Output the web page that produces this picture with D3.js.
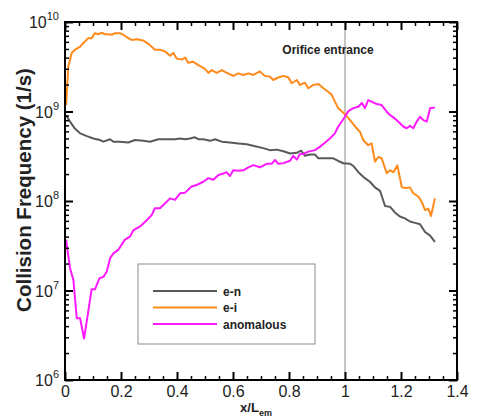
<!DOCTYPE html>
<html>
<head>
<meta charset="utf-8">
<script src="https://cdn.jsdelivr.net/npm/d3@7"></script>
<style>
  body { margin: 0; background: #fff; }
  svg { font-family: "Liberation Sans", Arial, sans-serif; }
  .tick text { fill: #222; }
</style>
</head>
<body>
<script>

var w = 477,
    h = 417;

// x / L_em, collision frequency (1/s)
var eN = [
  [0.004, 9.1e8], [0.018, 7.7e8], [0.036, 6.4e8], [0.054, 5.7e8], [0.078, 5.3e8],
  [0.101, 5.0e8], [0.125, 4.8e8], [0.137, 4.6e8], [0.161, 4.9e8], [0.173, 4.6e8],
  [0.196, 4.6e8], [0.226, 4.5e8], [0.250, 4.8e8], [0.280, 4.7e8], [0.304, 4.6e8],
  [0.333, 4.9e8], [0.363, 4.9e8], [0.393, 4.9e8], [0.411, 5.0e8], [0.429, 4.9e8],
  [0.446, 5.0e8], [0.464, 5.15e8], [0.476, 4.9e8], [0.494, 4.9e8], [0.518, 4.7e8],
  [0.536, 4.9e8], [0.560, 4.6e8], [0.589, 4.5e8], [0.619, 4.4e8], [0.649, 4.3e8],
  [0.679, 4.1e8], [0.708, 3.9e8], [0.732, 3.7e8], [0.756, 3.75e8], [0.780, 3.6e8],
  [0.804, 3.4e8], [0.828, 3.45e8], [0.843, 3.65e8], [0.857, 3.2e8], [0.875, 3.3e8],
  [0.893, 3.3e8], [0.905, 3.0e8], [0.935, 3.0e8], [0.958, 3.0e8], [0.976, 2.8e8],
  [0.994, 2.64e8], [1.018, 2.6e8], [1.030, 2.46e8], [1.048, 2.1e8], [1.071, 1.8e8],
  [1.089, 1.64e8], [1.107, 1.42e8], [1.125, 1.3e8], [1.143, 8.8e7], [1.161, 8.6e7],
  [1.179, 7.4e7], [1.196, 6.7e7], [1.214, 6.4e7], [1.232, 5.9e7], [1.250, 5.7e7],
  [1.268, 5.5e7], [1.286, 4.5e7], [1.304, 4.1e7], [1.321, 3.5e7]
];

var eI = [
  [0.004, 1.18e9], [0.012, 3.2e9], [0.024, 4.5e9], [0.036, 4.9e9], [0.054, 5.3e9],
  [0.065, 5.8e9], [0.083, 6.6e9], [0.095, 6.6e9], [0.107, 7.5e9], [0.119, 7.3e9],
  [0.131, 7.6e9], [0.143, 7.3e9], [0.155, 7.3e9], [0.167, 7.2e9], [0.179, 7.5e9],
  [0.196, 7.5e9], [0.208, 7.2e9], [0.226, 6.6e9], [0.238, 6.3e9], [0.256, 6.4e9],
  [0.280, 6.2e9], [0.298, 5.7e9], [0.321, 4.9e9], [0.339, 4.9e9], [0.357, 4.7e9],
  [0.375, 4.2e9], [0.387, 4.5e9], [0.399, 3.9e9], [0.417, 3.8e9], [0.429, 4.0e9],
  [0.440, 3.5e9], [0.458, 3.6e9], [0.476, 3.3e9], [0.500, 3.0e9], [0.512, 2.7e9],
  [0.524, 2.9e9], [0.542, 2.7e9], [0.560, 2.9e9], [0.578, 2.7e9], [0.601, 2.5e9],
  [0.619, 2.67e9], [0.637, 2.56e9], [0.655, 2.67e9], [0.673, 2.56e9], [0.696, 2.8e9],
  [0.714, 2.5e9], [0.732, 2.45e9], [0.744, 2.25e9], [0.762, 2.4e9], [0.780, 2.5e9],
  [0.798, 2.4e9], [0.810, 2.07e9], [0.828, 2.25e9], [0.839, 1.98e9], [0.857, 2.1e9],
  [0.869, 1.82e9], [0.887, 1.98e9], [0.905, 2.03e9], [0.923, 1.82e9], [0.940, 1.66e9],
  [0.953, 1.53e9], [0.964, 1.29e9], [0.976, 1.09e9], [1.000, 9.3e8], [1.018, 8.0e8],
  [1.036, 6.8e8], [1.054, 5.9e8], [1.065, 4.8e8], [1.083, 4.2e8], [1.095, 4.4e8],
  [1.107, 2.75e8], [1.119, 3.1e8], [1.131, 3.0e8], [1.149, 2.04e8], [1.161, 2.2e8],
  [1.173, 2.1e8], [1.187, 2.5e8], [1.203, 1.42e8], [1.220, 1.4e8], [1.232, 1.42e8],
  [1.244, 1.22e8], [1.262, 1.12e8], [1.274, 9.8e7], [1.286, 7.9e7], [1.298, 8.2e7],
  [1.307, 6.8e7], [1.321, 1.07e8]
];

var anomalous = [
  [0.004, 3.7e7], [0.012, 2.4e7], [0.018, 1.77e7], [0.030, 1.31e7], [0.042, 4.9e6],
  [0.054, 4.9e6], [0.068, 2.9e6], [0.083, 5.8e6], [0.095, 1.03e7], [0.107, 1.03e7],
  [0.123, 1.37e7], [0.137, 1.42e7], [0.149, 1.62e7], [0.161, 2.3e7], [0.173, 2.6e7],
  [0.190, 2.84e7], [0.214, 3.7e7], [0.232, 4.0e7], [0.244, 4.7e7], [0.268, 5.2e7],
  [0.292, 6.1e7], [0.310, 7.0e7], [0.321, 8.3e7], [0.339, 8.3e7], [0.357, 9.4e7],
  [0.375, 1.07e8], [0.393, 1.03e8], [0.411, 1.22e8], [0.429, 1.24e8], [0.452, 1.45e8],
  [0.470, 1.51e8], [0.494, 1.64e8], [0.512, 1.8e8], [0.530, 1.73e8], [0.548, 1.95e8],
  [0.565, 2.03e8], [0.577, 2.1e8], [0.589, 1.9e8], [0.601, 2.2e8], [0.619, 2.18e8],
  [0.637, 2.2e8], [0.655, 2.38e8], [0.673, 2.52e8], [0.696, 2.38e8], [0.720, 2.6e8],
  [0.738, 2.6e8], [0.750, 2.87e8], [0.762, 2.6e8], [0.780, 2.65e8], [0.804, 2.82e8],
  [0.815, 3.2e8], [0.828, 2.9e8], [0.839, 3.35e8], [0.851, 3.35e8], [0.869, 3.56e8],
  [0.893, 3.7e8], [0.911, 4.05e8], [0.929, 4.5e8], [0.946, 5.0e8], [0.964, 5.7e8],
  [0.976, 6.8e8], [0.994, 8.2e8], [1.012, 1.01e9], [1.030, 1.09e9], [1.048, 1.13e9],
  [1.060, 1.25e9], [1.071, 1.09e9], [1.083, 1.34e9], [1.095, 1.29e9], [1.113, 1.21e9],
  [1.131, 1.18e9], [1.149, 9.95e8], [1.161, 9.1e8], [1.173, 8.6e8], [1.185, 8.0e8],
  [1.196, 7.4e8], [1.208, 6.8e8], [1.220, 6.5e8], [1.232, 6.9e8], [1.244, 6.5e8],
  [1.256, 7.7e8], [1.268, 8.75e8], [1.280, 8.0e8], [1.292, 7.7e8], [1.304, 1.09e9],
  [1.321, 1.11e9]
];

var seriesNames = ['e-n', 'e-i', 'anomalous'];
var xTicks = [0, 0.2, 0.4, 0.6, 0.8, 1, 1.2, 1.4];
var yExponents = [6, 7, 8, 9, 10];
var orificeX = 1;

var colors = ['#595959', '#ff8a1c', '#ff19ff'];

// plot box (window.top is read-only, so no bare "top")
var pL = 65, pR = 457, pT = 22, pB = 380;

var x = d3.scaleLinear().domain([0, 1.4]).range([pL, pR]);
var y = d3.scaleLog().domain([1e6, 1e10]).range([pB, pT]);

var svg = d3.select('body').append('svg')
    .attr('width', w)
    .attr('height', h);

// minor tick values
var xMinor = d3.range(0, 1.4001, 0.05).filter(function(d){
    return Math.abs(d / 0.2 - Math.round(d / 0.2)) > 0.01;
});
var yMinor = [];
yExponents.slice(0, -1).forEach(function(e){
    for (var k = 2; k <= 9; k++) yMinor.push(k * Math.pow(10, e));
});
var yMajor = yExponents.map(function(e){ return Math.pow(10, e); });

// orifice entrance line
svg.append('line')
    .attr('x1', x(orificeX)).attr('x2', x(orificeX))
    .attr('y1', pT).attr('y2', pB)
    .attr('stroke', '#8c8c8c')
    .attr('stroke-width', 1);

svg.append('text')
    .attr('x', 328).attr('y', 54)
    .attr('text-anchor', 'middle')
    .attr('font-size', 12)
    .attr('font-weight', 'bold')
    .attr('fill', '#222')
    .text('Orifice entrance');

// lines
var line = d3.line()
    .x(function(d){ return x(d[0]); })
    .y(function(d){ return y(d[1]); });

[eN, eI, anomalous].forEach(function(s, i){
    svg.append('path')
        .datum(s)
        .attr('fill', 'none')
        .attr('stroke', colors[i])
        .attr('stroke-width', 2)
        .attr('stroke-linejoin', 'round')
        .attr('d', line);
});

// axes: major and minor ticks, all pointing inward
function tickAxis(axis, pos, values, size){
    var g = svg.append('g')
        .attr('transform', pos)
        .call(axis.tickValues(values).tickSizeInner(size).tickSizeOuter(0).tickFormat(''));
    g.select('.domain').remove();
    g.selectAll('line').attr('stroke', '#000').attr('stroke-width', 1.5);
    return g;
}

tickAxis(d3.axisBottom(x), 'translate(0,' + pB + ')', xMinor, -4);
tickAxis(d3.axisTop(x), 'translate(0,' + pT + ')', xMinor, -4);
tickAxis(d3.axisLeft(y), 'translate(' + pL + ',0)', yMinor, -4);
tickAxis(d3.axisRight(y), 'translate(' + pR + ',0)', yMinor, -4);

tickAxis(d3.axisTop(x), 'translate(0,' + pT + ')', xTicks, -8).selectAll('line').attr('stroke-width', 2);
tickAxis(d3.axisRight(y), 'translate(' + pR + ',0)', yMajor, -8).selectAll('line').attr('stroke-width', 2);
tickAxis(d3.axisLeft(y), 'translate(' + pL + ',0)', yMajor, -8).selectAll('line').attr('stroke-width', 2);

var xAxis = svg.append('g')
    .attr('transform', 'translate(0,' + pB + ')')
    .call(d3.axisBottom(x).tickValues(xTicks).tickSizeInner(-8).tickSizeOuter(0)
        .tickPadding(6).tickFormat(d3.format('~g')));
xAxis.select('.domain').remove();
xAxis.selectAll('line').attr('stroke', '#000').attr('stroke-width', 2);
xAxis.selectAll('text').attr('font-size', 16).attr('font-family', '"Liberation Sans", Arial, sans-serif');

// y labels 10^n
var yLab = svg.append('g').attr('fill', '#222');
yExponents.forEach(function(e){
    var t = yLab.append('text')
        .attr('x', 59)
        .attr('y', y(Math.pow(10, e)) + 6)
        .attr('text-anchor', 'end')
        .attr('font-size', 16);
    t.append('tspan').text('10');
    t.append('tspan').attr('font-size', 11).attr('dy', -8).text(e);
});

// frame
svg.append('rect')
    .attr('x', pL).attr('y', pT)
    .attr('width', pR - pL).attr('height', pB - pT)
    .attr('fill', 'none')
    .attr('stroke', '#000')
    .attr('stroke-width', 2);

// axis titles
var xt = svg.append('text')
    .attr('x', 256).attr('y', 412)
    .attr('text-anchor', 'middle')
    .attr('font-size', 13)
    .attr('font-weight', 'bold')
    .attr('fill', '#222');
xt.append('tspan').text('x/L');
xt.append('tspan').attr('font-size', 9).attr('dy', 4).text('em');

svg.append('text')
    .attr('transform', 'translate(31,190) rotate(-90)')
    .attr('text-anchor', 'middle')
    .attr('font-size', 20.5)
    .attr('font-weight', 'bold')
    .attr('fill', '#222')
    .text('Collision Frequency (1/s)');

// legend
var legend = svg.append('g');
legend.append('rect')
    .attr('x', 138).attr('y', 264)
    .attr('width', 177).attr('height', 80)
    .attr('fill', '#fff')
    .attr('stroke', '#8c8c8c')
    .attr('stroke-width', 1);

var rows = legend.selectAll('g.row')
    .data(seriesNames)
    .enter()
    .append('g')
    .attr('class', 'row')
    .attr('transform', function(d, i){ return 'translate(0,' + (291 + i * 16.5) + ')'; });

rows.append('line')
    .attr('x1', 153).attr('x2', 217)
    .attr('stroke', function(d, i){ return colors[i]; })
    .attr('stroke-width', 2);

rows.append('text')
    .attr('x', 223).attr('y', 4.5)
    .attr('font-size', 12)
    .attr('font-weight', 'bold')
    .attr('fill', '#222')
    .text(function(d){ return d; });

</script>
</body>
</html>
